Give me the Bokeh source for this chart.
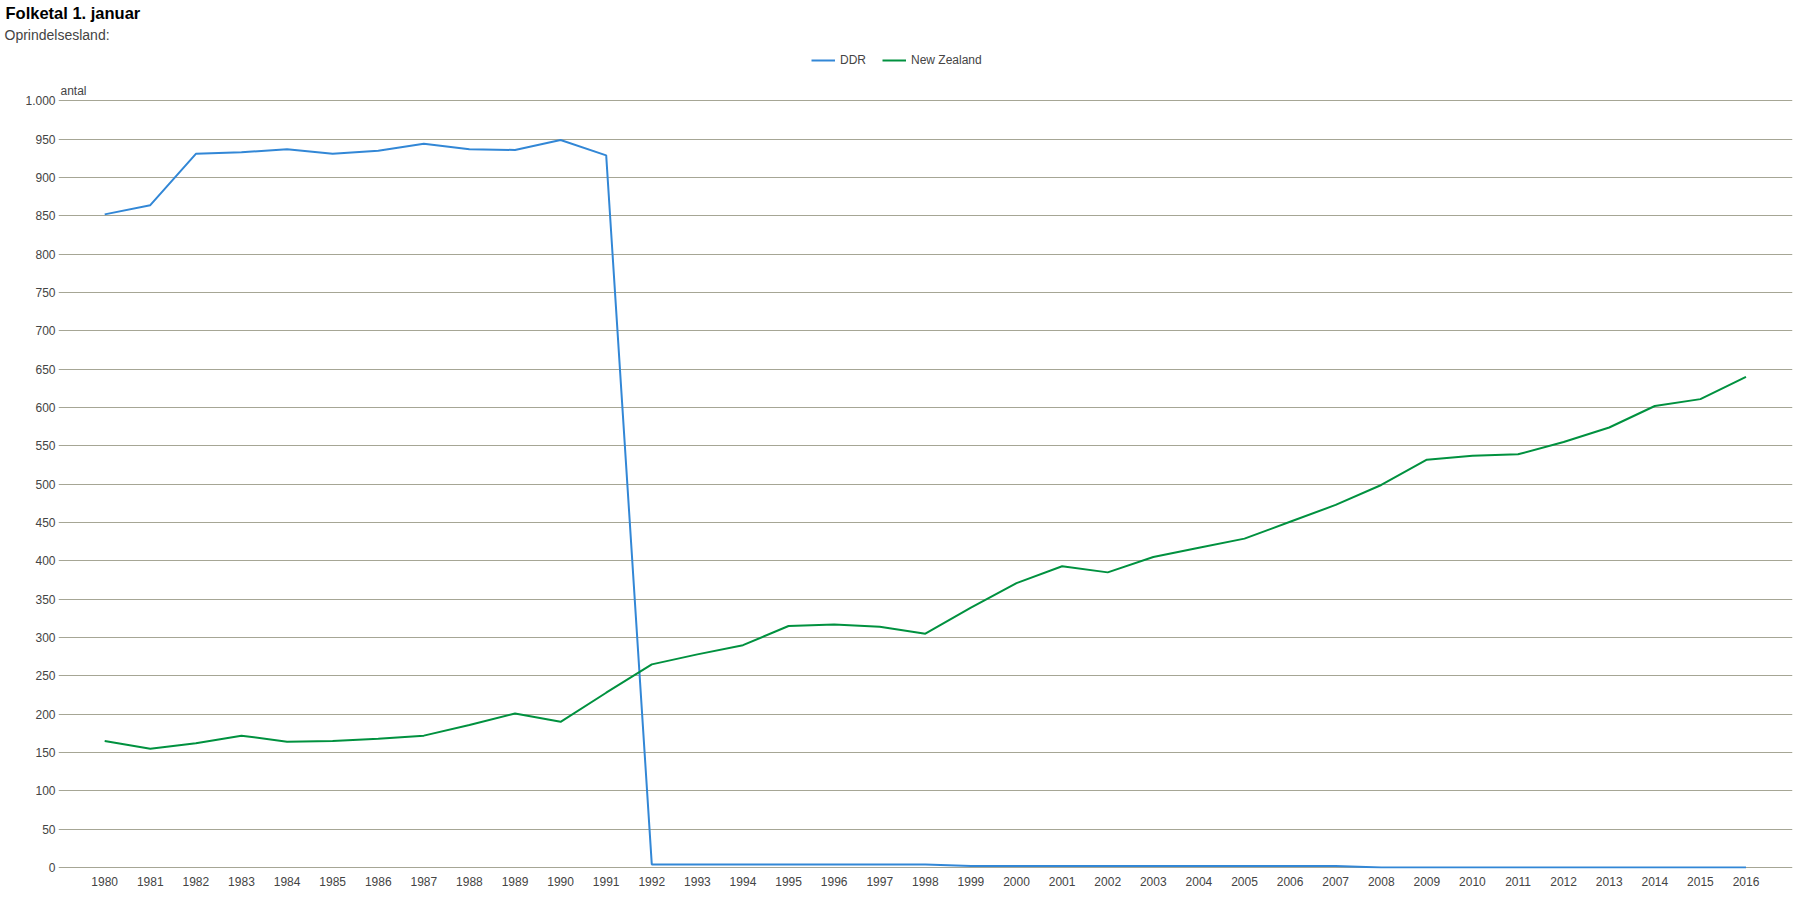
from bokeh.plotting import figure
from bokeh.models import Range1d, FixedTicker, Label, Legend, LegendItem, ColumnDataSource, Title
from bokeh.embed import file_html
from bokeh.resources import INLINE

years = list(range(1980, 2017))
ddr = [852, 864, 931, 933, 937, 931, 935, 944, 937, 936, 949, 929,
       4, 4, 4, 4, 4, 4, 4,
       2, 2, 2, 2, 2, 2, 2, 2, 2,
       0, 0, 0, 0, 0, 0, 0, 0, 0]
new_zealand = [165, 155, 162, 172, 164, 165, 168, 172, 186, 201, 190, 228,
               265, 278, 290, 315, 317, 314, 305, 339, 371, 393, 385, 405,
               417, 429, 451, 473, 499, 532, 537, 539, 555, 574, 602, 611, 640]
series_names = ["DDR", "New Zealand"]
y_ticks = [0, 50, 100, 150, 200, 250, 300, 350, 400, 450, 500, 550, 600, 650,
           700, 750, 800, 850, 900, 950, 1000]
y_tick_labels = ["0", "50", "100", "150", "200", "250", "300", "350", "400", "450",
                 "500", "550", "600", "650", "700", "750", "800", "850", "900", "950", "1.000"]
title_text = "Folketal 1. januar"
subtitle_text = "Oprindelsesland:"
y_unit_text = "antal"

FONT = "Liberation Sans"
TXT = "#444444"

src = ColumnDataSource(dict(year=years, ddr=ddr, nz=new_zealand))

p = figure(width=1794, height=898, output_backend="svg", toolbar_location=None, title=None,
           x_range=Range1d(1978.987, 2017.02), y_range=Range1d(-1.3, 1073.6),
           min_border_left=58, min_border_right=2, min_border_top=0, min_border_bottom=30)
p.outline_line_color = None
p.background_fill_color = "white"
p.border_fill_color = "white"

r1 = p.line("year", "ddr", source=src, line_color="#3287d6", line_width=2)
r2 = p.line("year", "nz", source=src, line_color="#00913f", line_width=2)

p.xgrid.grid_line_color = None
p.ygrid.grid_line_color = "#a6a695"
p.ygrid.grid_line_width = 1
p.ygrid.ticker = FixedTicker(ticks=y_ticks)

p.yaxis.ticker = FixedTicker(ticks=y_ticks)
p.yaxis.major_label_overrides = {t: l for t, l in zip(y_ticks, y_tick_labels)}
p.xaxis.ticker = FixedTicker(ticks=years)
for ax in (p.xaxis, p.yaxis):
    ax.axis_line_color = None
    ax.major_tick_line_color = None
    ax.minor_tick_line_color = None
    ax.major_label_text_font = FONT
    ax.major_label_text_font_size = "12px"
    ax.major_label_text_color = TXT
p.yaxis.major_tick_out = 0
p.yaxis.minor_tick_out = 0
p.yaxis.major_label_standoff = 3
p.xaxis.major_label_standoff = 2

legend = Legend(items=[LegendItem(label=series_names[0], renderers=[r1]),
                       LegendItem(label=series_names[1], renderers=[r2])],
                orientation="horizontal", location=(753, 801),
                border_line_color=None, background_fill_alpha=0,
                padding=0, margin=0, spacing=16, glyph_width=24, glyph_height=12,
                label_standoff=5, label_height=12, label_text_font_size="12px",
                label_text_font=FONT, label_text_color=TXT)
p.add_layout(legend)

sub = Title(text=subtitle_text, align="left", offset=-54, standoff=4,
            text_font=FONT, text_font_size="14px", text_font_style="normal", text_color=TXT)
main = Title(text=title_text, align="left", offset=-53, standoff=2,
             text_font=FONT, text_font_size="16.5px", text_font_style="bold", text_color="#000000")
p.add_layout(sub, "above")
p.add_layout(main, "above")

p.add_layout(Label(x=1979.03, y=1013, text=y_unit_text,
                   text_font=FONT, text_font_size="12px",
                   text_color=TXT, text_baseline="alphabetic"))

open("out.html", "w").write(file_html(p, INLINE))
